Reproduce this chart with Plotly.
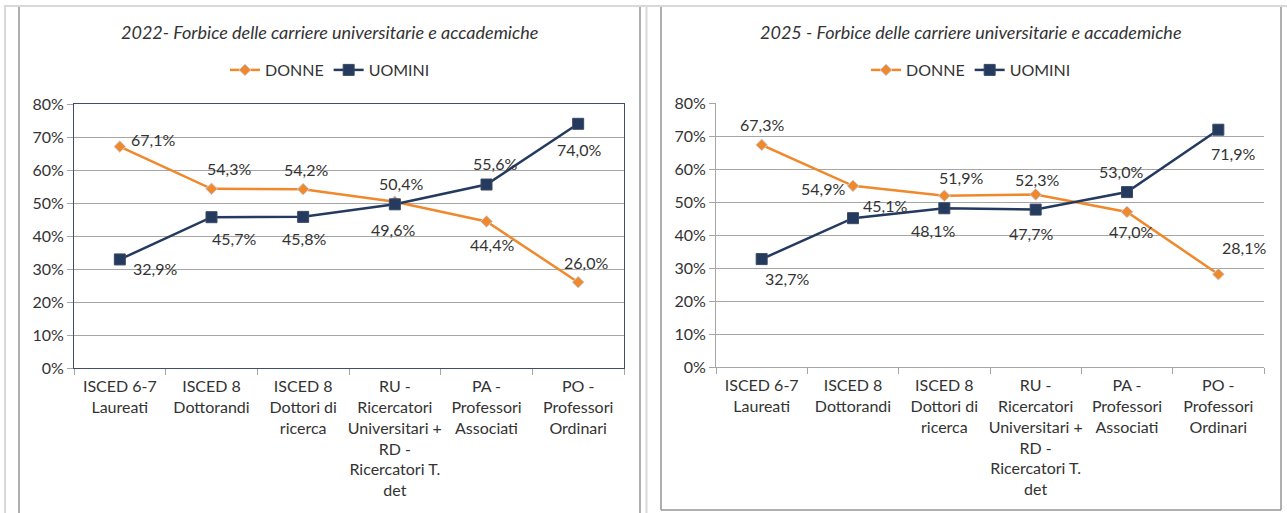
import plotly.graph_objects as go

W, H = 1287, 513

categories = [
    "ISCED 6-7<br>Laureati",
    "ISCED 8<br>Dottorandi",
    "ISCED 8<br>Dottori di<br>ricerca",
    "RU -<br>Ricercatori<br>Universitari +<br>RD -<br>Ricercatori T.<br>det",
    "PA -<br>Professori<br>Associati",
    "PO -<br>Professori<br>Ordinari",
]

donne_2022 = [0.671, 0.543, 0.542, 0.504, 0.444, 0.260]
uomini_2022 = [0.329, 0.457, 0.458, 0.496, 0.556, 0.740]
donne_2025 = [0.673, 0.549, 0.519, 0.523, 0.470, 0.281]
uomini_2025 = [0.327, 0.451, 0.481, 0.477, 0.530, 0.719]

titles = [
    "2022- Forbice delle carriere universitarie e accademiche",
    "2025 - Forbice delle carriere universitarie e accademiche",
]

# data label offsets from the marker, in pixels (dx right, dy down)
off_d22 = [(33, -7), (17, -20), (3, -20), (6, -18), (5, 23), (8, -20)]
off_u22 = [(35, 9), (22, 21), (1, 22), (-2, 25), (8, -21), (1, 26)]
off_d25 = [(0, -20), (-30, 3), (17, -18), (1, -15), (4, 20), (26, -27)]
off_u25 = [(25, 19), (32, -13), (-11, 22), (-5, 24), (-6, -21), (15, 24)]

ORANGE = "#F0882C"
NAVY = "#243A5E"
FONT = "Lato, Carlito, Calibri, sans-serif"
TXT = "#333333"
FS = 16


def px(x):
    return x / W


def py(y):
    return 1 - y / H


def pct(v):
    return f"{v*100:.1f}%".replace(".", ",")


fig = go.Figure()

panels = [
    dict(d=donne_2022, u=uomini_2022, od=off_d22, ou=off_u22, xa="x", ya="y", leg="legend"),
    dict(d=donne_2025, u=uomini_2025, od=off_d25, ou=off_u25, xa="x2", ya="y2", leg="legend2"),
]

for p in panels:
    fig.add_trace(go.Scatter(
        x=categories, y=p["d"], name="DONNE", mode="lines+markers",
        line=dict(color=ORANGE, width=2.5),
        marker=dict(symbol="diamond", size=9, color=ORANGE, line=dict(color="#C9D3E8", width=1)),
        xaxis=p["xa"], yaxis=p["ya"], legend=p["leg"],
    ))
    fig.add_trace(go.Scatter(
        x=categories, y=p["u"], name="UOMINI", mode="lines+markers",
        line=dict(color=NAVY, width=2.5),
        marker=dict(symbol="square", size=11, color=NAVY, line=dict(color="#3B4A63", width=1)),
        xaxis=p["xa"], yaxis=p["ya"], legend=p["leg"],
    ))
    for vals, offs in ((p["d"], p["od"]), (p["u"], p["ou"])):
        for c, v, (dx, dy) in zip(categories, vals, offs):
            fig.add_annotation(
                x=c, y=v, xref=p["xa"], yref=p["ya"], text=pct(v), showarrow=False,
                xshift=dx, yshift=-dy, xanchor="center", yanchor="middle",
                font=dict(size=FS, color=TXT, family=FONT),
            )

xcommon = dict(
    type="category", range=[-0.5, 5.5], showgrid=False, zeroline=False,
    ticks="outside", tickson="boundaries", ticklen=6, tickcolor="#A6A6A6",
    showline=True, linecolor="#A6A6A6", linewidth=1, tickangle=0,
    ticklabelstandoff=4,
    tickfont=dict(size=FS, color=TXT, family=FONT), automargin=False,
)
ycommon = dict(
    range=[0, 0.8], dtick=0.1, tickformat=".0%", showgrid=True, gridcolor="#A6A6A6",
    zeroline=False, ticks="outside", ticklen=6, tickcolor="#A6A6A6",
    showline=True, linecolor="#A6A6A6", linewidth=1,
    tickfont=dict(size=FS, color=TXT, family=FONT), automargin=False,
)

fig.update_layout(
    width=W, height=H, margin=dict(l=0, r=0, t=0, b=0, autoexpand=False),
    paper_bgcolor="white", plot_bgcolor="white",
    separators=",.",
    font=dict(family=FONT, size=FS, color=TXT),
    xaxis=dict(xcommon, domain=[px(74), px(624)], anchor="y",
               mirror=True, linecolor="#3F4F6A"),
    yaxis=dict(ycommon, domain=[py(368), py(104)], anchor="x",
               mirror=True, linecolor="#3F4F6A"),
    xaxis2=dict(xcommon, domain=[px(716), px(1264)], anchor="y2"),
    yaxis2=dict(ycommon, domain=[py(367), py(103)], anchor="x2"),
    legend=dict(orientation="h", x=px(330), xanchor="center", y=py(70), yanchor="middle",
                font=dict(size=FS, color=TXT, family=FONT), itemwidth=30,
                bgcolor="rgba(0,0,0,0)"),
    legend2=dict(orientation="h", x=px(971), xanchor="center", y=py(70), yanchor="middle",
                 font=dict(size=FS, color=TXT, family=FONT), itemwidth=30,
                 bgcolor="rgba(0,0,0,0)"),
)

for t, cx in zip(titles, [330, 971]):
    fig.add_annotation(
        text=f"<i>{t}</i>", x=px(cx), y=py(32), xref="paper", yref="paper",
        showarrow=False, xanchor="center", yanchor="middle",
        font=dict(size=18, color=TXT, family=FONT),
    )

# panel frames
LIGHT = "#D9D9D9"
DARK = "#959595"
shapes = [
    dict(type="line", x0=px(4), x1=1, y0=py(6), y1=py(6), line=dict(color=LIGHT, width=2)),
    dict(type="line", x0=px(5), x1=px(5), y0=py(6), y1=0, line=dict(color=LIGHT, width=2)),
    dict(type="line", x0=px(646.5), x1=px(646.5), y0=py(6), y1=0, line=dict(color=LIGHT, width=2)),
    dict(type="line", x0=px(19), x1=px(19), y0=py(7), y1=0, line=dict(color=DARK, width=1.5)),
    dict(type="line", x0=px(640), x1=px(640), y0=py(7), y1=0, line=dict(color=DARK, width=1.5)),
    dict(type="line", x0=px(661), x1=px(661), y0=py(7), y1=py(510), line=dict(color=DARK, width=1.5)),
    dict(type="line", x0=px(1281), x1=px(1281), y0=py(7), y1=py(510), line=dict(color=DARK, width=1.5)),
    dict(type="line", x0=px(661), x1=px(1281), y0=py(510), y1=py(510), line=dict(color=DARK, width=1.5)),
]
for s in shapes:
    fig.add_shape(s, xref="paper", yref="paper")

# drop the browser's default body margin so the figure sits at the page origin
fig.write_html("out.html", config={"displayModeBar": False},
               post_script="document.body.style.margin='0';")
